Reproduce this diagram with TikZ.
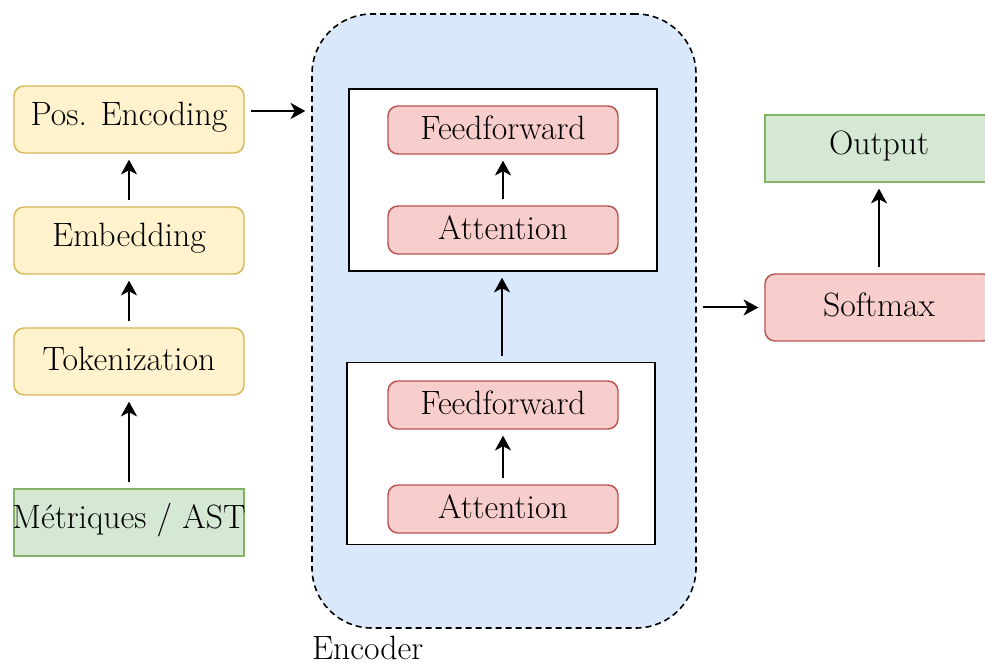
\documentclass[tikz,border=0pt]{standalone}
\usetikzlibrary{arrows.meta}
\definecolor{yfill}{HTML}{FFF2CC}\definecolor{ydraw}{HTML}{D6B656}
\definecolor{gfill}{HTML}{D5E8D4}\definecolor{gdraw}{HTML}{82B366}
\definecolor{rfill}{HTML}{F8CECC}\definecolor{rdraw}{HTML}{B85450}
\definecolor{bfill}{HTML}{DAE8FC}
\begin{document}
\begin{tikzpicture}[x=0.75pt,y=-0.75pt,
  every node/.style={font=\fontsize{25.3}{30}\selectfont, inner sep=0pt, outer sep=0pt},
  ybox/.style={draw=ydraw, fill=yfill, line width=1.1pt, rounded corners=7.5pt, minimum width=172.5pt, minimum height=50.25pt},
  gbox/.style={draw=gdraw, fill=gfill, line width=1.1pt, minimum width=172.5pt, minimum height=50.25pt},
  rbox/.style={draw=rdraw, fill=rfill, line width=1.1pt, rounded corners=7.5pt, minimum width=172.5pt, minimum height=36pt},
  rbig/.style={draw=rdraw, fill=rfill, line width=1.1pt, rounded corners=7.5pt, minimum width=171pt, minimum height=50.25pt},
  gbig/.style={draw=gdraw, fill=gfill, line width=1.1pt, minimum width=171pt, minimum height=50.25pt},
  layerbox/.style={draw=black, fill=white, line width=1.1pt, minimum width=231pt, minimum height=136.5pt},
  lbl/.style={yshift=2pt},
  conn/.style={-{Stealth[length=11pt,width=12pt,inset=3pt]}, line width=1.5pt, shorten <=5pt, shorten >=5pt}
]
\useasboundingbox (0,0) rectangle (985,666);
% encoder container
\node[draw=black, dash pattern=on 4.5pt off 3pt, fill=bfill, line width=1.2pt, rounded corners=45pt, minimum width=288pt, minimum height=460.5pt] (enc) at (504,321) {};
\node[anchor=base west] (enclabel) at (312,659) {Encoder};
% left column
\node[ybox] (pe) at (129,119.5) {};
\node[lbl] (pet) at (129,119.5) {Pos. Encoding};
\node[ybox] (emb) at (129,240.5) {};
\node[lbl] (embt) at (129,240.5) {Embedding};
\node[ybox] (tok) at (129,361.5) {};
\node[lbl] (tokt) at (129,361.5) {Tokenization};
\node[gbox] (met) at (129,522.5) {};
\node[lbl] (mettext) at (129,522.5) {Métriques / AST};
% layers
\node[layerbox] (top) at (503,180) {};
\node[rbox] (ff1) at (503,130) {};
\node[lbl] (ff1t) at (503,130) {Feedforward};
\node[rbox] (at1) at (503,230) {};
\node[lbl] (at1t) at (503,230) {Attention};
\node[layerbox] (bot) at (501,453.5) {};
\node[rbox] (ff2) at (503,405) {};
\node[lbl] (ff2t) at (503,405) {Feedforward};
\node[rbox] (at2) at (503,509) {};
\node[lbl] (at2t) at (503,509) {Attention};
% right
\node[gbig] (out) at (879,148.5) {};
\node[lbl] (outt) at (879,148.5) {Output};
\node[rbig] (sm) at (879,307.5) {};
\node[lbl] (smt) at (879,307.5) {Softmax};
% connectors
\draw[conn] (met) -- (tok);
\draw[conn] (tok) -- (emb);
\draw[conn] (emb) -- (pe);
\coordinate (peA) at (244,111);
\draw[conn] (peA) -- (enc.west |- peA);
\draw[conn] (at1) -- (ff1);
\draw[conn] (at2) -- (ff2);
\draw[conn] (bot.north -| 502,0) -- (top.south -| 502,0);
\draw[conn] (enc.east |- sm.west) -- (sm.west);
\draw[conn] (sm) -- (out);
\end{tikzpicture}
\end{document}
